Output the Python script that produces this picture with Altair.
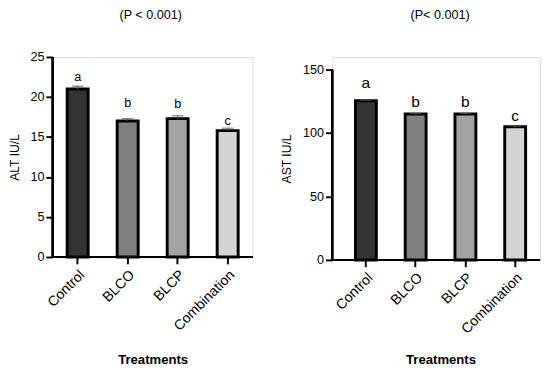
import altair as alt
import pandas as pd

treatments = ["Control", "BLCO", "BLCP", "Combination"]
fills = ["#333333", "#7f7f7f", "#a2a2a2", "#d4d4d4"]

alt_mean = [21.0, 17.0, 17.3, 15.8]
alt_err = [0.35, 0.3, 0.35, 0.3]
alt_letters = ["a", "b", "b", "c"]
alt_letter_y = [22.0, 18.7, 18.6, 16.5]

ast_mean = [125.5, 115.0, 115.0, 105.0]
ast_err = [0.4, 0.4, 0.5, 0.5]
ast_letters = ["a", "b", "b", "c"]
ast_letter_y = [135.5, 120.2, 120.2, 109.4]

FONT = "Liberation Sans"


def panel(mean, err, letters, letter_y, ytitle, ptitle, yticks, ydmax,
          width, height, xstart, letter_size, title_x, xtitle_pad):
    df = pd.DataFrame({
        "t": treatments,
        "m": mean,
        "top": [m + e for m, e in zip(mean, err)],
        "ly": letter_y,
        "lab": letters,
        "fill": fills,
    })
    x = alt.X("t:N", sort=treatments,
              scale=alt.Scale(paddingInner=0.58, paddingOuter=0.29,
                              range=[xstart, width]),
              axis=alt.Axis(title="Treatments", labelAngle=-45, domain=False,
                            labelFontSize=14.5, labelColor="black", labelFont=FONT,
                            tickSize=7, tickWidth=2, tickColor="black",
                            labelPadding=4,
                            titleFontSize=13.5, titleFontWeight="bold",
                            titleFont=FONT, titleColor="black",
                            titlePadding=xtitle_pad))
    yscale = alt.Scale(domain=[0, ydmax], nice=False)
    y = alt.Y("m:Q", scale=yscale,
              axis=alt.Axis(title=ytitle, values=yticks, domain=False, grid=False,
                            labelFontSize=13, labelColor="black", labelFont=FONT,
                            tickSize=7, tickWidth=2, tickColor="black",
                            labelPadding=2,
                            titleFontSize=12.5, titleFontWeight="normal",
                            titleFont=FONT, titleColor="black", titlePadding=9))
    base = alt.Chart(df)
    bars = base.mark_bar(stroke="black", strokeWidth=3).encode(
        x=x, y=y, color=alt.Color("fill:N", scale=None))
    ebar = base.mark_rule(color="#555555", strokeWidth=1.2).encode(
        x=alt.X("t:N", sort=treatments), y="m:Q", y2="top:Q")
    cap = base.mark_tick(color="#555555", thickness=1.3, size=12).encode(
        x=alt.X("t:N", sort=treatments), y="top:Q")
    txt = base.mark_text(fontSize=letter_size, font=FONT, color="black",
                         baseline="alphabetic").encode(
        x=alt.X("t:N", sort=treatments), y="ly:Q", text="lab:N")
    yaxis = base.mark_rule(color="black", strokeWidth=2).encode(
        x=alt.value(0), y=alt.datum(yticks[-1]), y2=alt.datum(0))
    xaxis = base.mark_rule(color="black", strokeWidth=2).encode(
        x=alt.value(-1), x2=alt.value(width), y=alt.value(height))
    ttl = alt.Chart(pd.DataFrame({"title": [ptitle]})).mark_text(
        fontSize=13, font=FONT, color="black", baseline="top", align="center"
    ).encode(text="title:N", x=alt.value(title_x), y=alt.value(-49))
    return alt.layer(bars, ebar, cap, txt, yaxis, xaxis, ttl).properties(
        width=width, height=height)


left = panel(alt_mean, alt_err, alt_letters, alt_letter_y, "ALT IU/L",
             "(P < 0.001)", [0, 5, 10, 15, 20, 25], 25, 206, 206, 0, 13, 101, 21)
right = panel(ast_mean, ast_err, ast_letters, ast_letter_y, "AST IU/L",
              "(P< 0.001)", [0, 50, 100, 150], 160, 214, 209, 9, 16, 111, 18)

chart = alt.hconcat(left, right, spacing=26).properties(
    padding={"left": 0, "top": -5, "right": 0, "bottom": 0}
).configure_view(stroke=None).configure(background="white")

chart.save("out.html", embed_options={"renderer": "svg", "actions": False})
